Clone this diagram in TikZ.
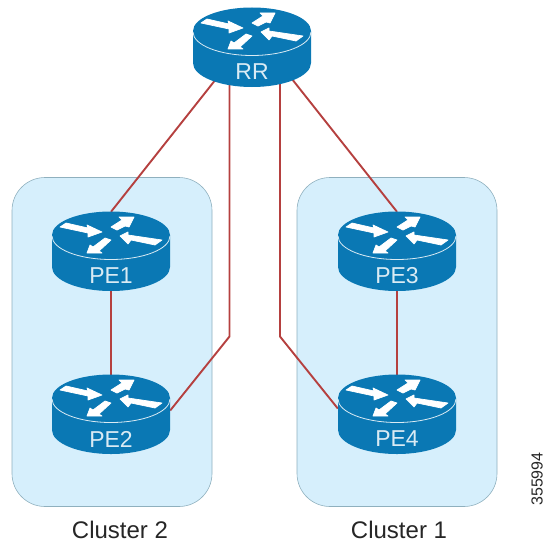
\documentclass[tikz,border=0pt]{standalone}
\usepackage{fontspec}
\setmainfont{Liberation Sans}
\usetikzlibrary{backgrounds}
\definecolor{routerblue}{HTML}{0A78B4}
\definecolor{panelblue}{HTML}{D6EFFC}
\definecolor{panelline}{HTML}{8FB0BE}
\definecolor{linkred}{HTML}{B5403F}
\tikzset{
    arrowshape/.style={fill=white,draw=white,line width=0.7pt,line join=round},
    routerbox/.style={
        rectangle,
        minimum width=118pt,
        minimum height=79pt,
        inner sep=0pt
    },
    routertext/.style={text=white!85!routerblue,font=\fontsize{23}{23}\selectfont},
    panel/.style={
        draw=panelline,
        line width=0.6pt,
        fill=panelblue,
        rectangle,
        rounded corners=33pt,
        minimum width=200pt,
        minimum height=329pt
    },
    link/.style={draw=linkred,line width=1.9pt},
    captiontext/.style={text=black!85,font=\fontsize{24}{24}\selectfont},
    router/.pic={
        % Cylinder body, origin at the centre of the top face
        \fill[routerblue] (-59,0) -- (-59,32) arc[start angle=180,end angle=0,x radius=59,y radius=24] -- (59,0) arc[start angle=0,end angle=-180,x radius=59,y radius=23.5] -- cycle;
        \draw[white!85!routerblue,line width=0.8pt] (-59,1) arc[start angle=180,end angle=0,x radius=59,y radius=23.5];
        % Four arrows on the top face
        \path[arrowshape] (-51,-8) -- (-45,-12) -- (-23,-7) -- (-24,-10) -- (-9,-3) -- (-23,2) -- (-23,-2) -- cycle;
        \path[arrowshape] (0,-8) -- (6,-5) -- (14,-9) -- (18,-8) -- (23,-18) -- (8,-18) -- (11,-15) -- cycle;
        \path[arrowshape] (9,1) -- (17,-3) -- (17,0) -- (51,5) -- (44,10) -- (20,5) -- (17,9) -- cycle;
        \path[arrowshape] (-24,18) -- (-21,10) -- (-18,12) -- (-6,3) -- (0,5) -- (-12,16) -- (-9,18) -- cycle;
    }
}
\begin{document}
\begin{tikzpicture}[x=1pt,y=-1pt]
    \useasboundingbox (0,0) rectangle (545,543);

    % Routers
    \pic at (252,31) {router};
    \pic at (111,235) {router};
    \pic at (111,398) {router};
    \pic at (397,235) {router};
    \pic at (397,398) {router};
    \node[routerbox] (rr) at (252,47.5) {};
    \node[routerbox] (pe1) at (111,251.5) {};
    \node[routerbox] (pe2) at (111,414.5) {};
    \node[routerbox] (pe3) at (397,251.5) {};
    \node[routerbox] (pe4) at (397,414.5) {};
    \node[routertext] (rrtext) at (252,71.5) {RR};
    \node[routertext] (pe1text) at (111,276) {PE1};
    \node[routertext] (pe2text) at (111,439) {PE2};
    \node[routertext] (pe3text) at (397,276) {PE3};
    \node[routertext] (pe4text) at (397,439) {PE4};

    % Captions
    \node[captiontext] (cluster2) at (120,530) {Cluster 2};
    \node[captiontext] (cluster1) at (399,530) {Cluster 1};
    \node[rotate=90,text=black!85,font=\fontsize{16}{16}\selectfont] (figno) at (537,479) {355994};

    \coordinate (bendleft) at (229.5,336.5);
    \coordinate (bendright) at (280,336.5);

    \begin{scope}[on background layer]
        % Cluster panels
        \node[panel] (panelleft) at (112,342) {};
        \node[panel] (panelright) at (397,342) {};

        % Links
        \draw[link] ([xshift=-29pt,yshift=17pt]rr.south) -- (pe1.north);
        \draw[link] ([xshift=-22.5pt,yshift=10pt]rr.south) -- (bendleft) -- ([yshift=4pt]pe2.east);
        \draw[link] ([xshift=28pt,yshift=10pt]rr.south) -- (bendright) -- ([yshift=6pt]pe4.west);
        \draw[link] ([xshift=33pt,yshift=17pt]rr.south) -- (pe3.north);
        \draw[link] (pe1) -- (pe2);
        \draw[link] (pe3) -- (pe4);
    \end{scope}
\end{tikzpicture}
\end{document}
